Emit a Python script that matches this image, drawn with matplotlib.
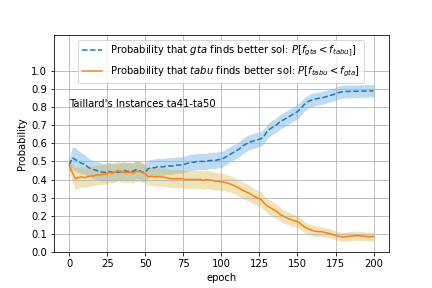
import numpy as np
import matplotlib
matplotlib.use("Agg")
import matplotlib.pyplot as plt

epochs = list(range(0, 201, 2))

gta_mean = [0.48, 0.52, 0.51, 0.50, 0.49, 0.485, 0.47, 0.46, 0.455, 0.45,
            0.445, 0.44, 0.44, 0.445, 0.44, 0.44, 0.44, 0.445, 0.45, 0.445,
            0.445, 0.445, 0.455, 0.45, 0.44, 0.44, 0.46, 0.465, 0.465, 0.47,
            0.47, 0.47, 0.475, 0.475, 0.475, 0.48, 0.48, 0.48, 0.485, 0.49,
            0.495, 0.495, 0.50, 0.50, 0.50, 0.50, 0.505, 0.505, 0.505, 0.51,
            0.51, 0.52, 0.53, 0.54, 0.55, 0.56, 0.57, 0.585, 0.595, 0.605,
            0.61, 0.615, 0.62, 0.625, 0.64, 0.665, 0.68, 0.69, 0.70, 0.715,
            0.725, 0.735, 0.745, 0.755, 0.765, 0.775, 0.79, 0.81, 0.825, 0.835,
            0.84, 0.845, 0.848, 0.85, 0.855, 0.86, 0.865, 0.87, 0.877, 0.882,
            0.885, 0.886, 0.886, 0.887, 0.887, 0.887, 0.888, 0.888, 0.889, 0.889,
            0.889]

gta_err = [0.03, 0.06, 0.065, 0.06, 0.058, 0.055, 0.052, 0.05, 0.05, 0.05,
           0.05, 0.048, 0.048, 0.048, 0.048, 0.048, 0.048, 0.048, 0.048, 0.048,
           0.048, 0.048, 0.048, 0.048, 0.048, 0.048, 0.048, 0.048, 0.048, 0.048,
           0.048, 0.046, 0.046, 0.046, 0.046, 0.045, 0.045, 0.045, 0.045, 0.045,
           0.045, 0.045, 0.045, 0.045, 0.045, 0.045, 0.045, 0.045, 0.045, 0.045,
           0.045, 0.043, 0.043, 0.042, 0.042, 0.042, 0.042, 0.042, 0.042, 0.041,
           0.041, 0.041, 0.041, 0.041, 0.04, 0.04, 0.04, 0.04, 0.04, 0.04,
           0.04, 0.04, 0.04, 0.04, 0.04, 0.04, 0.038, 0.038, 0.037, 0.037,
           0.036, 0.036, 0.036, 0.035, 0.035, 0.035, 0.035, 0.035, 0.035, 0.035,
           0.035, 0.035, 0.035, 0.035, 0.035, 0.035, 0.035, 0.035, 0.035, 0.035,
           0.035]

tabu_mean = [0.48, 0.44, 0.405, 0.41, 0.415, 0.41, 0.415, 0.42, 0.42, 0.425,
             0.425, 0.428, 0.43, 0.44, 0.435, 0.44, 0.45, 0.44, 0.44, 0.44,
             0.44, 0.435, 0.445, 0.445, 0.44, 0.43, 0.415, 0.418, 0.415, 0.415,
             0.415, 0.413, 0.41, 0.405, 0.405, 0.405, 0.405, 0.405, 0.40, 0.40,
             0.40, 0.40, 0.40, 0.40, 0.395, 0.40, 0.398, 0.395, 0.39, 0.39,
             0.388, 0.385, 0.38, 0.375, 0.368, 0.36, 0.35, 0.34, 0.333, 0.325,
             0.315, 0.305, 0.298, 0.29, 0.27, 0.255, 0.245, 0.235, 0.225, 0.212,
             0.20, 0.192, 0.185, 0.178, 0.173, 0.168, 0.155, 0.142, 0.132, 0.125,
             0.118, 0.114, 0.112, 0.112, 0.108, 0.105, 0.10, 0.095, 0.09, 0.085,
             0.083, 0.085, 0.087, 0.088, 0.09, 0.09, 0.088, 0.087, 0.085, 0.085,
             0.085]

tabu_err = [0.03, 0.05, 0.06, 0.058, 0.056, 0.055, 0.055, 0.055, 0.055, 0.055,
            0.055, 0.055, 0.055, 0.055, 0.055, 0.055, 0.055, 0.055, 0.055, 0.055,
            0.055, 0.055, 0.055, 0.055, 0.055, 0.05, 0.05, 0.05, 0.05, 0.05,
            0.05, 0.05, 0.05, 0.05, 0.05, 0.05, 0.05, 0.05, 0.05, 0.05,
            0.05, 0.05, 0.05, 0.05, 0.05, 0.05, 0.05, 0.05, 0.05, 0.048,
            0.048, 0.046, 0.045, 0.045, 0.045, 0.045, 0.045, 0.045, 0.045, 0.045,
            0.045, 0.043, 0.042, 0.042, 0.04, 0.04, 0.04, 0.04, 0.04, 0.038,
            0.037, 0.036, 0.035, 0.035, 0.034, 0.033, 0.032, 0.031, 0.03, 0.03,
            0.03, 0.03, 0.028, 0.028, 0.027, 0.026, 0.025, 0.025, 0.025, 0.025,
            0.025, 0.025, 0.025, 0.025, 0.025, 0.025, 0.025, 0.025, 0.025, 0.025,
            0.025]

yticks = [0.0, 0.1, 0.2, 0.3, 0.4, 0.5, 0.6, 0.7, 0.8, 0.9, 1.0]

x = np.array(epochs)
gm = np.array(gta_mean); ge = np.array(gta_err)
tm = np.array(tabu_mean); te = np.array(tabu_err)

fig, ax = plt.subplots(figsize=(6, 4), dpi=72)
fig.subplots_adjust(left=0.125, right=0.9, bottom=0.125, top=0.88)

ax.fill_between(x, gm - ge, gm + ge, color='#3a92e0', alpha=0.33, linewidth=0)
ax.fill_between(x, tm - te, tm + te, color='#d9b640', alpha=0.38, linewidth=0)
ax.plot(x, gm, '--', color='#1f77b4',
        label=r'Probability that $gta$ finds better sol: $P[f_{gta} < f_{tabu]}]$')
ax.plot(x, tm, '-', color='#ff7f0e',
        label=r'Probability that $tabu$ finds better sol: $P[f_{tabu} < f_{gta}]$')

ax.set_ylim(0, 1.2)
ax.set_yticks(yticks)
ax.set_xticks([0, 25, 50, 75, 100, 125, 150, 175, 200])
ax.grid(True)
ax.set_xlabel('epoch')
ax.set_ylabel('Probability')
ax.text(0, 0.8, "Taillard's Instances ta41-ta50")
ax.legend(loc='upper center')

fig.savefig('out.png', dpi=72)
